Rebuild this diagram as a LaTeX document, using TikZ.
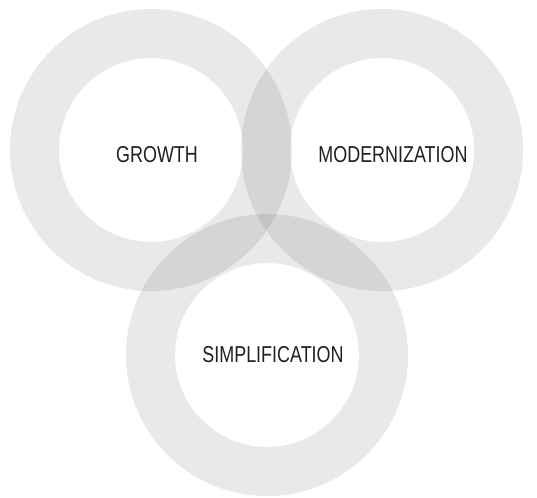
\documentclass[tikz,border=0pt]{standalone}
\usepackage{fontspec}
\setmainfont[FakeStretch=0.78]{Liberation Sans}
\begin{document}
\begin{tikzpicture}[x=1pt,y=-1pt,
  ring/.style={fill={rgb,255:red,22;green,26;blue,36}, fill opacity=0.095, even odd rule, draw=none},
  label/.style={font=\fontsize{23}{25}\selectfont, text={rgb,255:red,35;green,31;blue,32}, inner sep=0pt}]
  \useasboundingbox[fill=white] (0,0) rectangle (537,497);
  % three rings with translucent overlap
  \coordinate (c1) at (151,150);
  \coordinate (c2) at (382,150);
  \coordinate (c3) at (267,355);
  \fill[ring] (c1) circle[radius=141] (c1) circle[radius=92];
  \fill[ring] (c2) circle[radius=141] (c2) circle[radius=92];
  \fill[ring] (c3) circle[radius=141] (c3) circle[radius=92];
  % labels
  \node[label] (growth) at (157,155) {GROWTH};
  \node[label] (modern) at (393,155) {MODERNIZATION};
  \node[label] (simple) at (273,355) {SIMPLIFICATION};
\end{tikzpicture}
\end{document}
